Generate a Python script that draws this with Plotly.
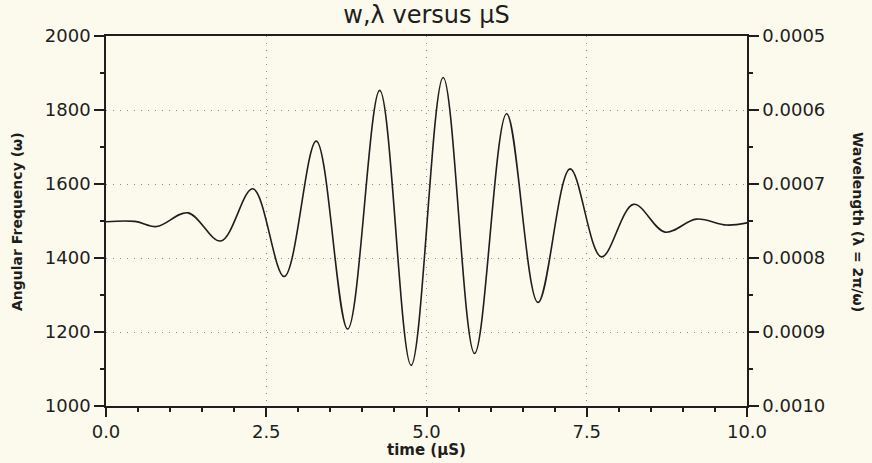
import plotly.graph_objects as go

# turning points of the trace (time in uS, angular frequency)
time_us = [0.0, 0.45, 0.79, 1.28, 1.79, 2.29, 2.78, 3.28, 3.77, 4.27, 4.76,
           5.26, 5.75, 6.25, 6.74, 7.24, 7.73, 8.23, 8.72, 9.21, 9.68, 10.0]
omega = [1498, 1499, 1485, 1522, 1446, 1587, 1350, 1716, 1208, 1853, 1110,
         1888, 1142, 1790, 1280, 1641, 1403, 1545, 1470, 1505, 1489, 1495]

x_ticks = [0.0, 2.5, 5.0, 7.5, 10.0]
x_labels = ["0.0", "2.5", "5.0", "7.5", "10.0"]
y_ticks = [1000, 1200, 1400, 1600, 1800, 2000]
wl_ticks = [0.0005, 0.0006, 0.0007, 0.0008, 0.0009, 0.0010]
wl_labels = ["0.0005", "0.0006", "0.0007", "0.0008", "0.0009", "0.0010"]
wl_minor = [0.00055, 0.00065, 0.00075, 0.00085, 0.00095]

paper = "#fbfaec"
ink = "#1e1e1e"
grid = "#8c8c8c"
tick_font = dict(family="DejaVu Sans", size=18, color=ink)

fig = go.Figure()
fig.add_trace(
    go.Scatter(
        x=time_us,
        y=omega,
        mode="lines",
        line=dict(color=ink, width=1.6, shape="spline", smoothing=1.0),
        showlegend=False,
        hoverinfo="skip",
    )
)
# empty trace so the wavelength axis is drawn
fig.add_trace(go.Scatter(x=[], y=[], yaxis="y2", showlegend=False))

fig.update_layout(
    width=872,
    height=463,
    paper_bgcolor=paper,
    plot_bgcolor=paper,
    margin=dict(l=106, r=125, t=36, b=57),
    font=dict(family="DejaVu Sans", color=ink),
    title=dict(
        text="w,λ versus μS",
        font=dict(size=24, color=ink),
        x=0.5,
        xref="paper",
        xanchor="center",
        y=1 - 15 / 463,
        yanchor="middle",
    ),
    xaxis=dict(
        range=[0, 10],
        tickvals=x_ticks,
        ticktext=x_labels,
        tickfont=tick_font,
        ticks="outside",
        ticklen=9,
        tickwidth=1.5,
        tickcolor=ink,
        showline=True,
        linecolor=ink,
        linewidth=1.5,
        mirror=True,
        showgrid=True,
        gridcolor=grid,
        griddash="1px,6px",
        gridwidth=1,
        zeroline=False,
        minor=dict(dtick=0.5, ticks="outside", ticklen=4, tickwidth=1.5,
                   tickcolor=ink, showgrid=False),
    ),
    yaxis=dict(
        range=[1000, 2000],
        tickvals=y_ticks,
        tickfont=tick_font,
        ticks="outside",
        ticklen=10,
        tickwidth=1.5,
        tickcolor=ink,
        showline=True,
        linecolor=ink,
        linewidth=1.5,
        showgrid=True,
        gridcolor=grid,
        griddash="1px,6px",
        gridwidth=1,
        zeroline=False,
        minor=dict(dtick=100, ticks="outside", ticklen=4, tickwidth=1.5,
                   tickcolor=ink, showgrid=False),
    ),
    yaxis2=dict(
        overlaying="y",
        side="right",
        anchor="x",
        range=[0.0010, 0.0005],
        tickvals=wl_ticks,
        ticktext=wl_labels,
        tickfont=tick_font,
        ticks="outside",
        ticklen=10,
        tickwidth=1.5,
        tickcolor=ink,
        showline=True,
        linecolor=ink,
        linewidth=1.5,
        showgrid=False,
        zeroline=False,
        minor=dict(tickvals=wl_minor, ticks="outside", ticklen=4,
                   tickwidth=1.5, tickcolor=ink, showgrid=False),
    ),
    annotations=[
        dict(text="<b>time (μS)</b>", xref="paper", yref="paper",
             x=0.5, y=(406 - 450) / 370, xanchor="center", yanchor="middle",
             showarrow=False, font=dict(size=15, color=ink)),
        dict(text="<b>Angular Frequency (ω)</b>", xref="paper", yref="paper",
             x=(17 - 106) / 641, y=(406 - 222) / 370, textangle=-90,
             xanchor="center", yanchor="middle",
             showarrow=False, font=dict(size=14, color=ink)),
        dict(text="<b>Wavelength (λ = 2π/ω)</b>", xref="paper", yref="paper",
             x=(858 - 106) / 641, y=(406 - 222) / 370, textangle=90,
             xanchor="center", yanchor="middle",
             showarrow=False, font=dict(size=14, color=ink)),
    ],
)

# drop the page's default body margin so the figure sits at the window's corner
fig.write_html(
    "out.html",
    config={"displayModeBar": False},
    post_script="document.body.style.margin='0';",
)
